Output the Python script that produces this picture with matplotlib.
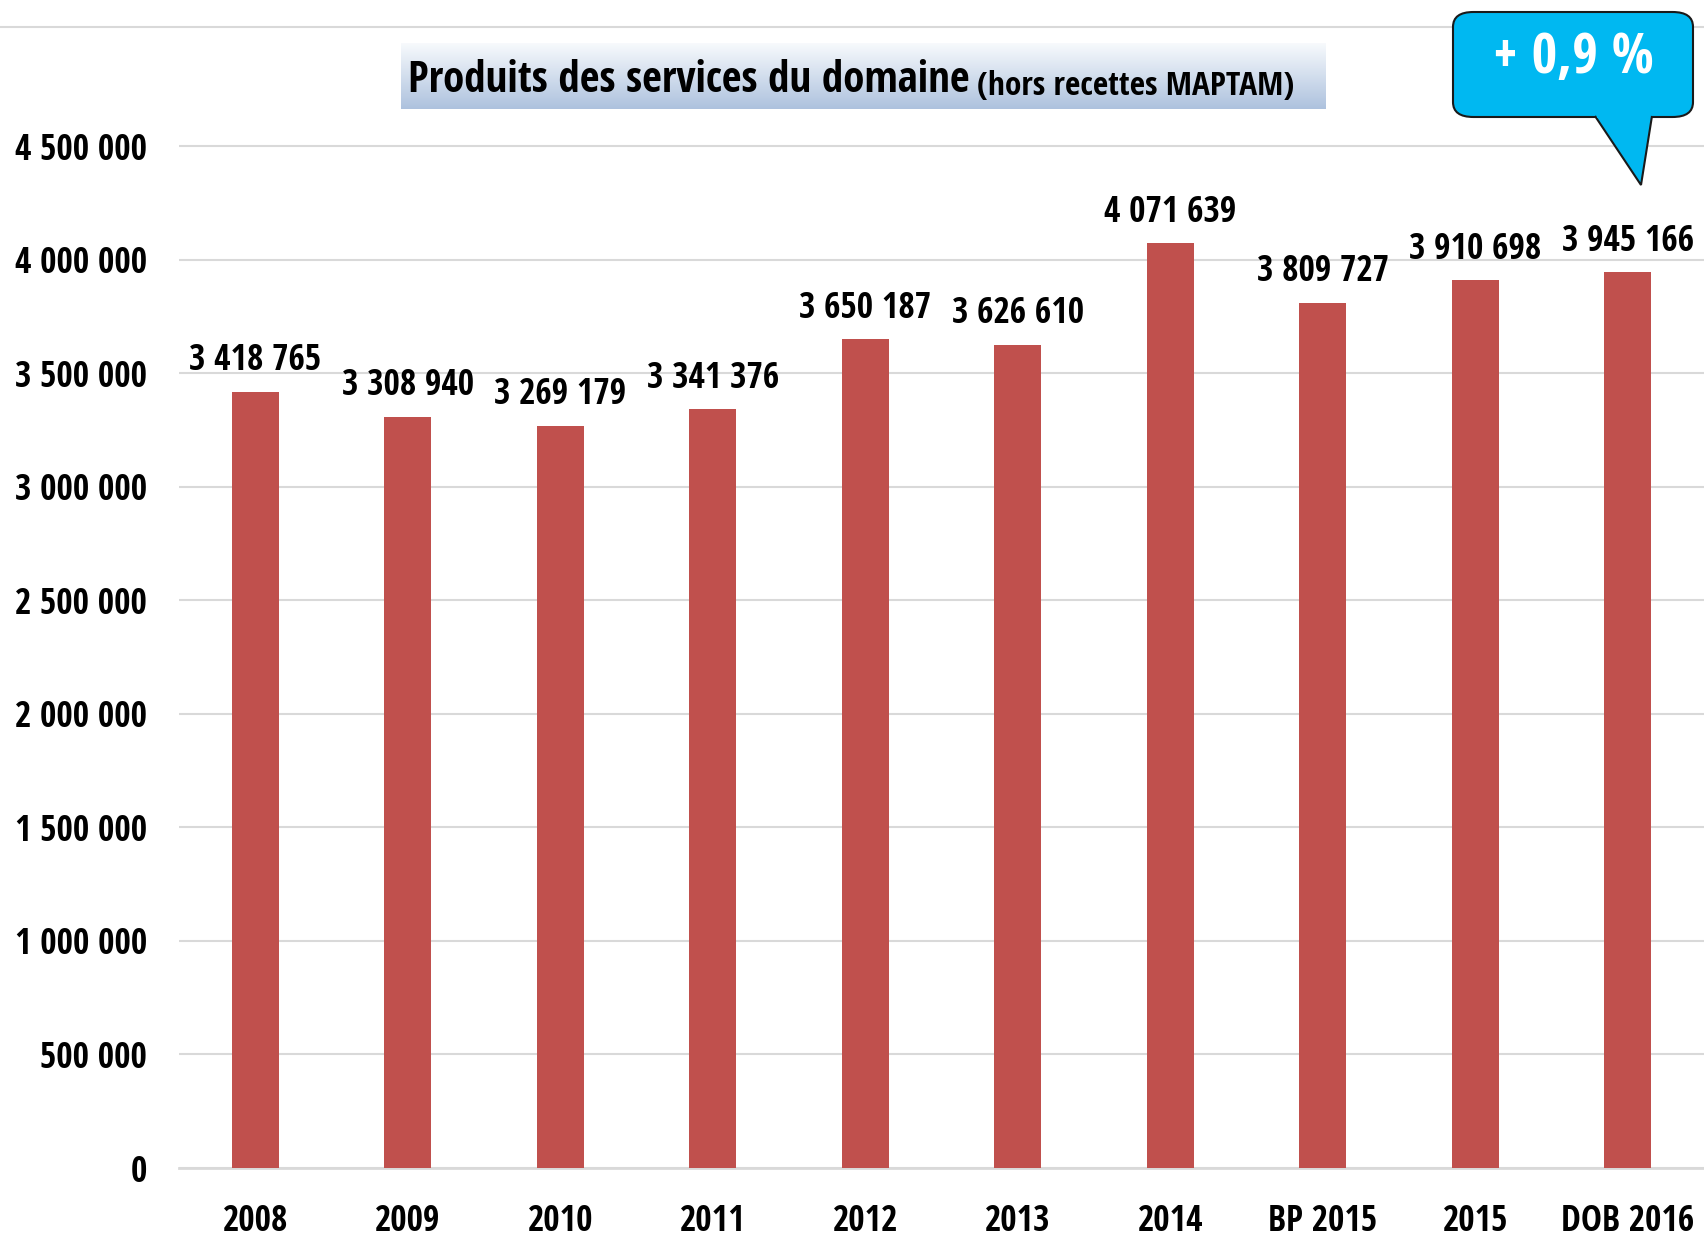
import matplotlib
matplotlib.use("Agg")
import matplotlib.pyplot as plt
from matplotlib import font_manager
from matplotlib.lines import Line2D
from matplotlib.patches import FancyBboxPatch, Polygon
import numpy as np

categories = ["2008", "2009", "2010", "2011", "2012", "2013", "2014",
              "BP 2015", "2015", "DOB 2016"]
values = [3418765, 3308940, 3269179, 3341376, 3650187, 3626610, 4071639,
          3809727, 3910698, 3945166]
yticks = [0, 500000, 1000000, 1500000, 2000000, 2500000, 3000000,
          3500000, 4000000, 4500000]
title_main = "Produits des services du domaine"
title_sub = "(hors recettes MAPTAM)"
callout_text = "+ 0,9 %"

names = {f.name for f in font_manager.fontManager.ttflist}
family = "DejaVu Sans"
for cand in ["Open Sans Condensed", "PT Sans Narrow", "Roboto Condensed"]:
    if cand in names:
        family = cand
        break
plt.rcParams["font.family"] = [family, "DejaVu Sans"]
plt.rcParams["font.weight"] = "bold"


def fmt(v):
    return f"{v:,}".replace(",", " ")


W, H = 1704, 1238
fig = plt.figure(figsize=(W / 100, H / 100), dpi=100)
ax = fig.add_axes([179 / W, 1 - 1168 / H, 1 - 179 / W, (1168 - 27) / H])

x = np.arange(len(categories))
ax.bar(x, values, width=0.31, color="#c0504d", zorder=3)
ax.set_xlim(-0.5, len(categories) - 0.5)
ax.set_ylim(0, 5025000)

ax.set_yticks(yticks)
ax.set_yticklabels([fmt(v) for v in yticks], fontsize=25.5, fontweight="bold")
ax.set_xticks(x)
ax.set_xticklabels(categories, fontsize=25.5, fontweight="bold")
ax.tick_params(axis="both", length=0)
ax.tick_params(axis="x", pad=26)
ax.tick_params(axis="y", pad=23)
ax.yaxis.grid(True, color="#d9d9d9", linewidth=1.5, zorder=0)

for side in ["left", "right", "top"]:
    ax.spines[side].set_visible(False)
ax.spines["bottom"].set_color("#d9d9d9")
ax.spines["bottom"].set_linewidth(2)

# thin rule across the whole top of the chart area
fig.add_artist(Line2D([0, 1], [1 - 27 / H, 1 - 27 / H], color="#d9d9d9",
                      linewidth=1.5, transform=fig.transFigure))

for xi, v in zip(x, values):
    ax.annotate(fmt(v), (xi, v), xytext=(0, 9), textcoords="offset points",
                ha="center", va="bottom", fontsize=25.5, fontweight="bold",
                zorder=4)

# title box with a vertical gradient
tx0, tx1, ty0, ty1 = 401 / W, 1326 / W, 1 - 109 / H, 1 - 43 / H
grad = np.linspace(0, 1, 100).reshape(-1, 1)
top_c = np.array([0.97, 0.98, 0.99])
bot_c = np.array([0.68, 0.76, 0.87])
img = top_c * (1 - grad[..., None]) + bot_c * grad[..., None]
tax = fig.add_axes([tx0, ty0, tx1 - tx0, ty1 - ty0])
tax.imshow(img, aspect="auto", extent=(0, 1, 0, 1))
tax.axis("off")
t1 = tax.text(0.008, 0.25, title_main, fontsize=31, fontweight="bold",
              ha="left", va="baseline", transform=tax.transAxes)
tax.annotate(title_sub, xy=(1, 0), xycoords=t1, xytext=(5, 0),
             textcoords="offset points", fontsize=24, fontweight="bold",
             ha="left", va="bottom")

# callout bubble
bubble = FancyBboxPatch((1453 / W, 1 - 117 / H), 240 / W, 105 / H,
                        boxstyle="round,pad=0,rounding_size=0.012",
                        transform=fig.transFigure, facecolor="#00b8f1",
                        edgecolor="#1a1a1a", linewidth=1.5, zorder=10)
fig.patches.append(bubble)
tail = Polygon([(1595 / W, 1 - 116 / H), (1641 / W, 1 - 185 / H),
                (1652 / W, 1 - 116 / H)], closed=False,
               transform=fig.transFigure, facecolor="#00b8f1",
               edgecolor="#1a1a1a", linewidth=1.5, zorder=11)
fig.patches.append(tail)
fig.patches.append(Polygon([(1597 / W, 1 - 114 / H), (1650 / W, 1 - 114 / H),
                            (1650 / W, 1 - 118 / H), (1597 / W, 1 - 118 / H)],
                           transform=fig.transFigure, facecolor="#00b8f1",
                           edgecolor="none", zorder=12))
fig.text(1573 / W, 1 - 58 / H, callout_text, fontsize=40, fontweight="bold",
         color="white", ha="center", va="center", zorder=13)

fig.savefig("out.png", dpi=100)
